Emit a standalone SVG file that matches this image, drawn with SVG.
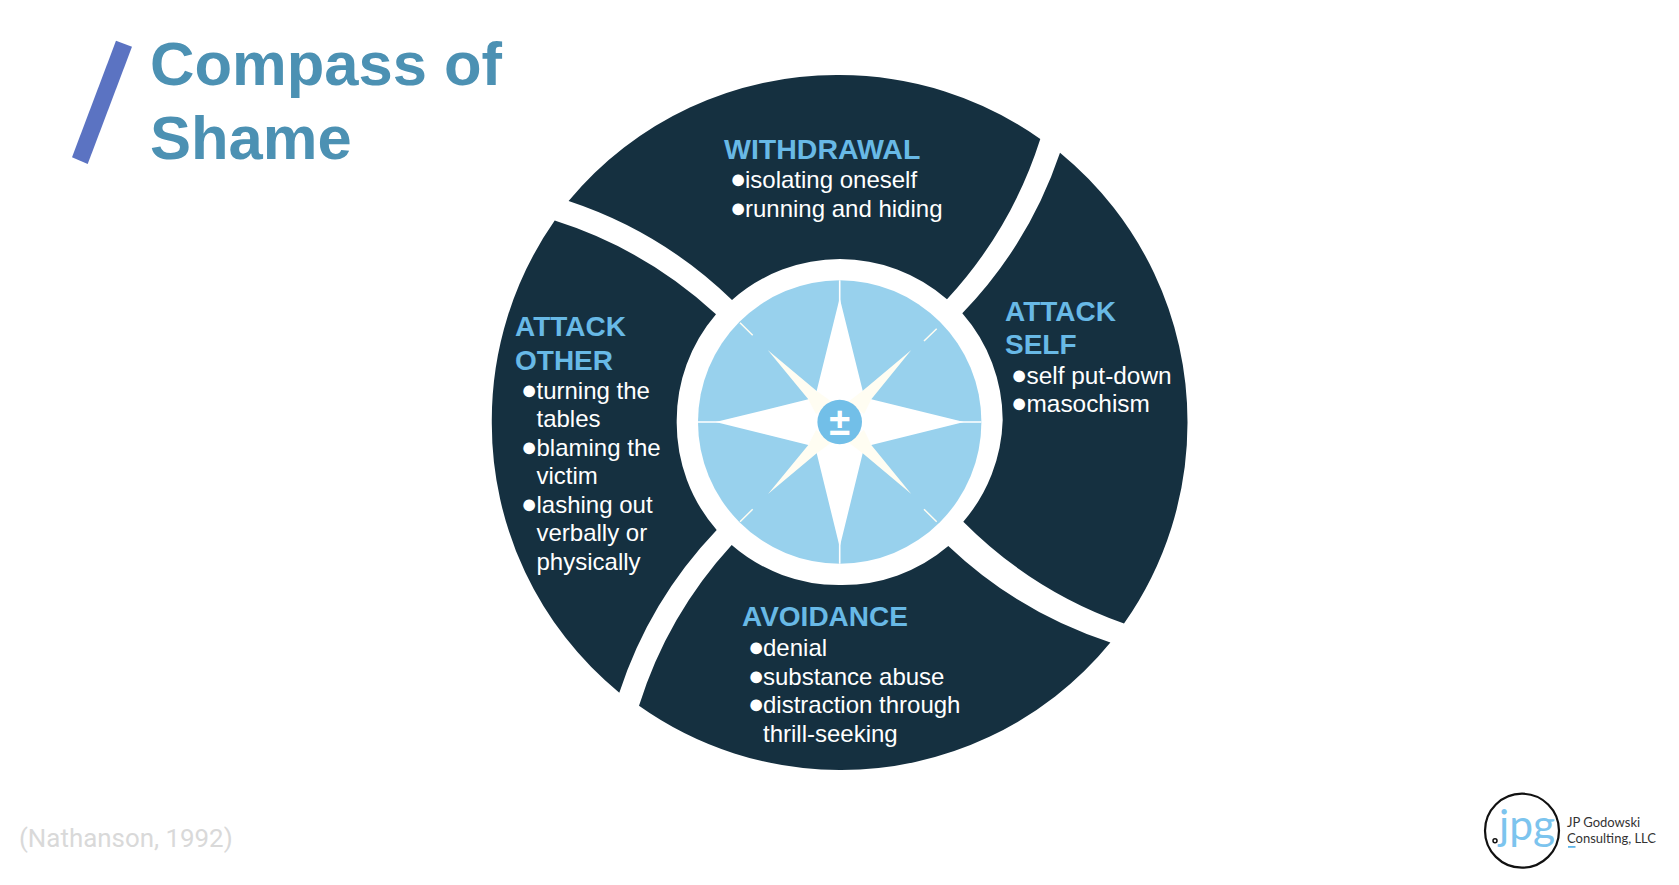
<svg xmlns="http://www.w3.org/2000/svg" width="1679" height="885" viewBox="0 0 1679 885">
<style>
text{font-family:"Liberation Sans",Arial,sans-serif}
.seg{fill:#153040}
.h{font-weight:700;font-size:28px;fill:#68b9e6}
.w{font-size:28.5px}
.b{font-size:24px;fill:#fff}
.s{font-size:24.4px}
.d{font-size:27px}
.t{font-weight:700;font-size:61.5px;fill:#4c91b3}
.tick{stroke:#fffdf2;stroke-width:1.5;fill:none}
.cream{fill:#fffdf2}
</style>
<rect width="1679" height="885" fill="#fff"/>
<g id="title">
<polygon points="116,40.7 132,46.7 87.7,164 72,157.3" fill="#5b73c2"/>
<text class="t" x="150" y="85">Compass of</text>
<text class="t" x="150" y="159">Shame</text>
</g>
<g id="withdrawal">
<path class="seg" d="M568.6,201A348,348 0 0 1 839.5,75A348,348 0 0 1 1040.3,139A428,428 0 0 1 947,299.3A163,163 0 0 0 840,259A163,163 0 0 0 732,300A428,428 0 0 0 568.6,201Z"/>
<text class="h w" x="724" y="158.5">WITHDRAWAL</text>
<text class="b" y="188"><tspan class="d" x="730">●</tspan><tspan x="745">isolating oneself</tspan></text>
<text class="b" y="217"><tspan class="d" x="730">●</tspan><tspan x="745">running and hiding</tspan></text>
</g>
<g id="attack-self">
<path class="seg" d="M1060,152.7A348,348 0 0 1 1187.5,422.5A348,348 0 0 1 1124,623.5A428,428 0 0 1 963.3,521.7A163,163 0 0 0 1002.7,420A163,163 0 0 0 962.3,313.3A428,428 0 0 0 1060,152.7Z"/>
<text class="h" x="1005" y="321">ATTACK</text>
<text class="h" x="1005" y="354">SELF</text>
<text class="b s" y="384.3"><tspan class="d" x="1011">●</tspan><tspan x="1026.5">self put-down</tspan></text>
<text class="b s" y="411.7"><tspan class="d" x="1011">●</tspan><tspan x="1026.5">masochism</tspan></text>
</g>
<g id="avoidance">
<path class="seg" d="M1110.4,642.5A348,348 0 0 1 839.5,770A348,348 0 0 1 639,705.7A428,428 0 0 1 731.7,545A163,163 0 0 0 840,585A163,163 0 0 0 948.3,546A428,428 0 0 0 1110.4,642.5Z"/>
<text class="h" x="742" y="626">AVOIDANCE</text>
<text class="b" y="656"><tspan class="d" x="748">●</tspan><tspan x="763">denial</tspan></text>
<text class="b" y="685"><tspan class="d" x="748">●</tspan><tspan x="763">substance abuse</tspan></text>
<text class="b" y="713"><tspan class="d" x="748">●</tspan><tspan x="763">distraction through</tspan></text>
<text class="b" x="763" y="742">thrill-seeking</text>
</g>
<g id="attack-other">
<path class="seg" d="M619.3,692.7A348,348 0 0 1 491.8,422.5A348,348 0 0 1 554.7,220.6A428,428 0 0 1 716,314.3A163,163 0 0 0 676.7,422A163,163 0 0 0 716.7,530A428,428 0 0 0 619.3,692.7Z"/>
<text class="h" x="515" y="336">ATTACK</text>
<text class="h" x="515" y="370">OTHER</text>
<text class="b" y="399"><tspan class="d" x="521">●</tspan><tspan x="536.5">turning the</tspan></text>
<text class="b" x="536.5" y="427">tables</text>
<text class="b" y="456"><tspan class="d" x="521">●</tspan><tspan x="536.5">blaming the</tspan></text>
<text class="b" x="536.5" y="484">victim</text>
<text class="b" y="513"><tspan class="d" x="521">●</tspan><tspan x="536.5">lashing out</tspan></text>
<text class="b" x="536.5" y="541">verbally or</text>
<text class="b" x="536.5" y="570">physically</text>
</g>
<g id="compass">
<circle cx="839.7" cy="422" r="141.7" fill="#98d1ed"/>
<path d="M839.7,280.3V305M839.7,563.7V540M698,422H722M981.4,422H957" stroke="#fff" stroke-width="1.6" fill="none"/>
<polygon points="839.7,298 862.7,390.7 871.3,399.3 964,422 871.3,445 862.7,453.3 839.7,547 816.7,453.3 808.3,445 715.5,422 808.3,399.3 816.7,390.7" fill="#fff"/>
<polygon class="cream" points="767.7,350 816.7,391 832,402 816,414 808.3,399.3"/>
<polygon class="cream" points="911.3,350 871.3,399.3 864,414 848,402 862.7,390.7"/>
<polygon class="cream" points="911.3,494 862.7,453.3 848,442 864,430 871.3,445"/>
<polygon class="cream" points="768,494 808.3,445 816,430 832,442 816.7,453.3"/>
<path class="tick" d="M740,322.7L752.7,335.3M936.7,328.7L924,341M740,521.7L752.7,509.3M936.7,521.7L924,509.3"/>
<circle cx="839.7" cy="422" r="22.3" fill="#72bfe8"/>
<text x="839.7" y="434.5" text-anchor="middle" font-weight="700" font-size="38" fill="#fff">±</text>
</g>
<text id="citation" x="19" y="847" font-size="25.9" fill="#d9d9d9" style="font-family:Roboto,sans-serif">(Nathanson, 1992)</text>
<g id="logo">
<circle cx="1522" cy="830.7" r="37" fill="#fff" stroke="#111" stroke-width="2.2"/>
<circle cx="1495" cy="840.7" r="2" fill="none" stroke="#111" stroke-width="1.5"/>
<text x="1499" y="840" font-size="42.5" fill="#7cc4ee" style="font-family:Lato,sans-serif;font-weight:400">jpg</text>
<text x="1567" y="826.5" font-size="13" fill="#333" style="font-family:Lato,sans-serif">JP Godowski</text>
<text x="1567" y="843" font-size="13" fill="#333" style="font-family:Lato,sans-serif">Consulting, LLC</text>
<rect x="1568" y="846" width="7.5" height="1.8" fill="#5fb5e8"/>
</g>
</svg>
